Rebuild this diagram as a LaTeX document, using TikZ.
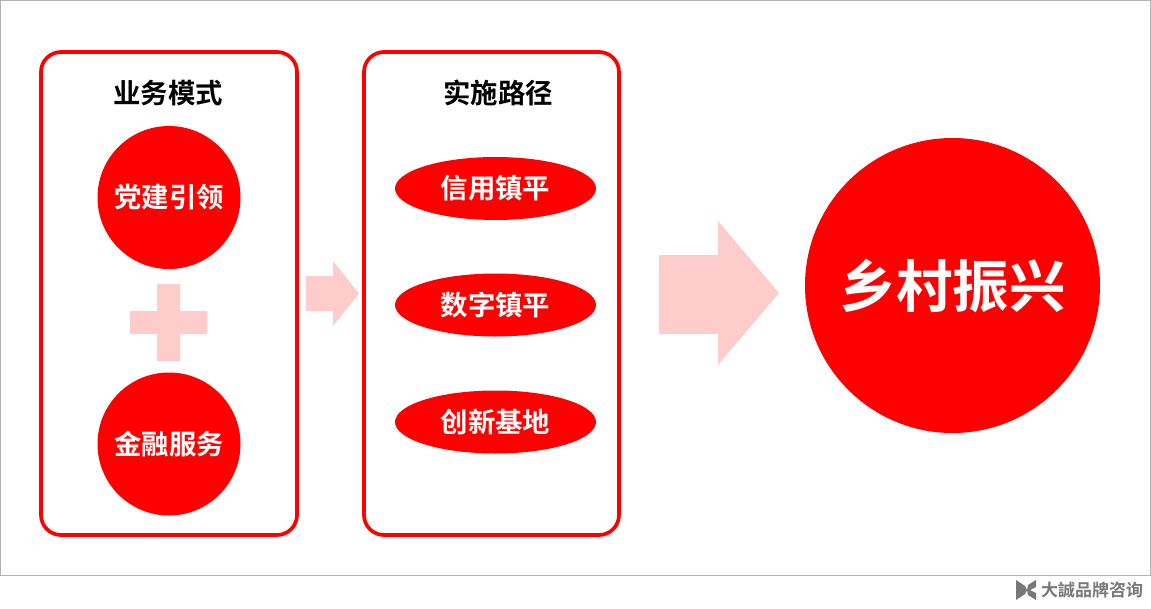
\documentclass[tikz,border=0pt]{standalone}
\usepackage{fontspec}
\setmainfont{Noto Sans CJK SC}[BoldFont={Noto Sans CJK SC Bold}]
\definecolor{rd}{RGB}{255,0,0}
\definecolor{pk}{RGB}{255,204,204}
\definecolor{gy}{RGB}{120,120,120}
\tikzset{
 panel/.style={draw=rd,line width=3.7pt,rounded corners=20pt,fill=white},
 head/.style={font=\fontsize{27.4}{27.4}\selectfont\bfseries,text=black,inner sep=0pt},
 disc/.style={circle,fill=rd,text=white,inner sep=0pt,font=\fontsize{27.4}{27.4}\selectfont\bfseries},
 oval/.style={ellipse,fill=rd,text=white,inner sep=0pt,font=\fontsize{27.4}{27.4}\selectfont\bfseries},
 shape pk/.style={fill=pk,draw=none}
}
\usetikzlibrary{shapes.geometric}
\begin{document}
\begin{tikzpicture}[x=1pt,y=-1pt]
\useasboundingbox (0,0) rectangle (1151,608);
\fill[white] (0,0) rectangle (1151,608);
\draw[draw=gray!60,line width=1pt] (0.5,0.5) rectangle (1150.5,575);
\path[panel] (41,52) rectangle (297,535);
\path[panel] (364,52) rectangle (619,535);
\node[head] (h1) at (168,93) {业务模式};
\node[head] (h2) at (498,93) {实施路径};
\node[disc,minimum size=143pt] (a1) at (169,197.5) {\raisebox{0.5pt}{党建引领}};
\node[disc,minimum size=143pt] (a2) at (169,444) {\raisebox{0.5pt}{金融服务}};
\fill[shape pk] (157,284) -- (180,284) -- (180,311) -- (207,311) -- (207,334) -- (180,334) -- (180,361) -- (157,361) -- (157,334) -- (130,334) -- (130,311) -- (157,311) -- cycle;
\node[oval,minimum width=201pt,minimum height=63pt] (b1) at (495.5,188.5) {信用镇平};
\node[oval,minimum width=201pt,minimum height=63pt] (b2) at (495.5,305) {数字镇平};
\node[oval,minimum width=201pt,minimum height=63pt] (b3) at (495.5,422) {\raisebox{1pt}{创新基地}};
\fill[shape pk] (306,276) -- (333,276) -- (333,261) -- (359,293.5) -- (333,326) -- (333,311) -- (306,311) -- cycle;
\fill[shape pk] (659,255) -- (718,255) -- (718,221) -- (779,293) -- (718,365) -- (718,334) -- (659,334) -- cycle;
\node[disc,minimum size=295pt,font=\fontsize{56.5}{56.5}\selectfont\bfseries] (c) at (952.5,285.5) {\raisebox{1.5pt}{乡村振兴}};
\fill[gy] (1016,580) -- (1025,586) -- (1027,590) -- (1025,594) -- (1016,600) -- cycle;
\fill[gy] (1036,580) -- (1036,587) -- (1030,590) -- (1036,593) -- (1036,600) -- (1028,595) -- (1027,590) -- (1028,585) -- cycle;
\node[inner sep=0pt,anchor=west,text=gy,font=\fontsize{17}{17}\selectfont\bfseries] (logo) at (1041,590) {大誠品牌咨询};
\end{tikzpicture}
\end{document}
